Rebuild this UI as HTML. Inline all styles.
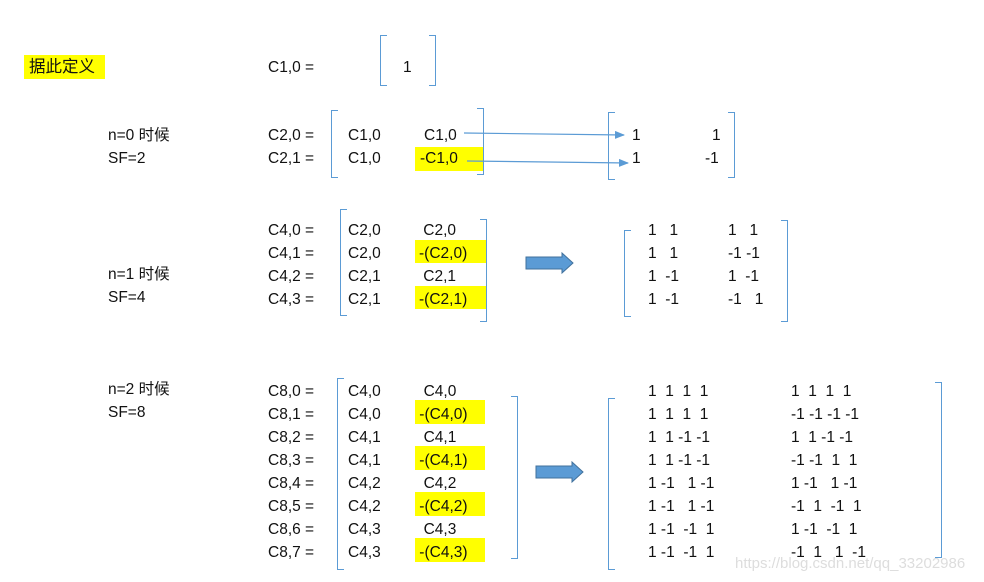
<!DOCTYPE html>
<html><head><meta charset="utf-8"><style>
body{margin:0;width:984px;height:582px;background:#fff;position:relative;overflow:hidden;font-family:"Liberation Sans","Noto Sans CJK SC",sans-serif;font-size:15.5px;color:#111}
.t{position:absolute;white-space:pre;line-height:20px}
.y{position:absolute;background:#ffff00}
.bl,.br{position:absolute;border:1.5px solid #5b9bd5;width:6px}
.bl{border-right:none}.br{border-left:none}
</style></head><body>
<div class="y" style="left:24px;top:55px;width:81px;height:24px"></div>
<div class="t" style="left:29px;top:57px;font-size:16.5px">据此定义</div>

<div class="t" style="left:268px;top:58px">C1,0 =</div>
<div class="bl" style="left:380px;top:35px;height:49px"></div>
<div class="br" style="left:429px;top:35px;height:49px"></div>
<div class="t" style="left:403px;top:58px">1</div>

<div class="t" style="left:108px;top:126px">n=0 时候</div>
<div class="t" style="left:108px;top:149px">SF=2</div>
<div class="t" style="left:268px;top:126px">C2,0 =</div>
<div class="t" style="left:268px;top:149px">C2,1 =</div>
<div class="bl" style="left:331px;top:110px;height:66px"></div>
<div class="br" style="left:477px;top:108px;height:65px"></div>
<div class="y" style="left:415px;top:147px;width:68px;height:24px"></div>
<div class="t" style="left:348px;top:126px">C1,0</div>
<div class="t" style="left:424px;top:126px">C1,0</div>
<div class="t" style="left:348px;top:149px">C1,0</div>
<div class="t" style="left:420px;top:149px">-C1,0</div>
<div class="bl" style="left:608px;top:112px;height:66px"></div>
<div class="br" style="left:728px;top:112px;height:64px"></div>
<div class="t" style="left:632px;top:126px">1</div>
<div class="t" style="left:712px;top:126px">1</div>
<div class="t" style="left:632px;top:149px">1</div>
<div class="t" style="left:705px;top:149px">-1</div>
<svg style="position:absolute;left:0;top:0" width="984" height="582">
<defs><marker id="a" markerWidth="10" markerHeight="8" refX="9" refY="4" orient="auto" markerUnits="userSpaceOnUse"><path d="M0,0L10,4L0,8z" fill="#5b9bd5"/></marker></defs>
<line x1="464" y1="133" x2="624" y2="135" stroke="#5b9bd5" stroke-width="1.2" marker-end="url(#a)"/>
<line x1="467" y1="161" x2="628" y2="163" stroke="#5b9bd5" stroke-width="1.2" marker-end="url(#a)"/>
<path d="M526,257H562V253L573,263L562,273V269H526Z" fill="#5b9bd5" stroke="#41719c" stroke-width="1"/>
<path d="M536,466H572V462L583,472L572,482V478H536Z" fill="#5b9bd5" stroke="#41719c" stroke-width="1"/>
</svg>

<div class="t" style="left:108px;top:265px">n=1 时候</div>
<div class="t" style="left:108px;top:288px">SF=4</div>
<div class="t" style="left:268px;top:219px;line-height:23px">C4,0 =
C4,1 =
C4,2 =
C4,3 =</div>
<div class="bl" style="left:340px;top:209px;height:105px"></div>
<div class="br" style="left:480px;top:219px;height:101px"></div>
<div class="y" style="left:415px;top:240px;width:71px;height:23px"></div>
<div class="y" style="left:415px;top:286px;width:71px;height:23px"></div>
<div class="t" style="left:348px;top:219px;line-height:23px">C2,0
C2,0
C2,1
C2,1</div>
<div class="t" style="left:419px;top:219px;line-height:23px"> C2,0
-(C2,0)
 C2,1
-(C2,1)</div>
<div class="bl" style="left:624px;top:230px;height:85px"></div>
<div class="br" style="left:781px;top:220px;height:100px"></div>
<div class="t" style="left:648px;top:219px;line-height:23px">1   1
1   1
1  -1
1  -1</div>
<div class="t" style="left:728px;top:219px;line-height:23px">1   1
-1 -1
1  -1
-1   1</div>

<div class="t" style="left:108px;top:380px">n=2 时候</div>
<div class="t" style="left:108px;top:403px">SF=8</div>
<div class="t" style="left:268px;top:380px;line-height:23px">C8,0 =
C8,1 =
C8,2 =
C8,3 =
C8,4 =
C8,5 =
C8,6 =
C8,7 =</div>
<div class="bl" style="left:337px;top:378px;height:190px"></div>
<div class="br" style="left:511px;top:396px;height:161px"></div>
<div class="y" style="left:415px;top:400px;width:70px;height:24px"></div>
<div class="y" style="left:415px;top:446px;width:70px;height:24px"></div>
<div class="y" style="left:415px;top:492px;width:70px;height:24px"></div>
<div class="y" style="left:415px;top:538px;width:70px;height:24px"></div>
<div class="t" style="left:348px;top:380px;line-height:23px">C4,0
C4,0
C4,1
C4,1
C4,2
C4,2
C4,3
C4,3</div>
<div class="t" style="left:415px;top:380px;line-height:23px">  C4,0
 -(C4,0)
  C4,1
 -(C4,1)
  C4,2
 -(C4,2)
  C4,3
 -(C4,3)</div>
<div class="bl" style="left:608px;top:398px;height:170px"></div>
<div class="br" style="left:935px;top:382px;height:174px"></div>
<div class="t" style="left:648px;top:380px;line-height:23px">1  1  1  1
1  1  1  1
1  1 -1 -1
1  1 -1 -1
1 -1   1 -1
1 -1   1 -1
1 -1  -1  1
1 -1  -1  1</div>
<div class="t" style="left:791px;top:380px;line-height:23px">1  1  1  1
-1 -1 -1 -1
1  1 -1 -1
-1 -1  1  1
1 -1   1 -1
-1  1  -1  1
1 -1  -1  1
-1  1   1  -1</div>
<div class="t" style="left:735px;top:554px;color:#ddd;font-size:15px">https://blog.csdn.net/qq_33202986</div>
</body></html>
